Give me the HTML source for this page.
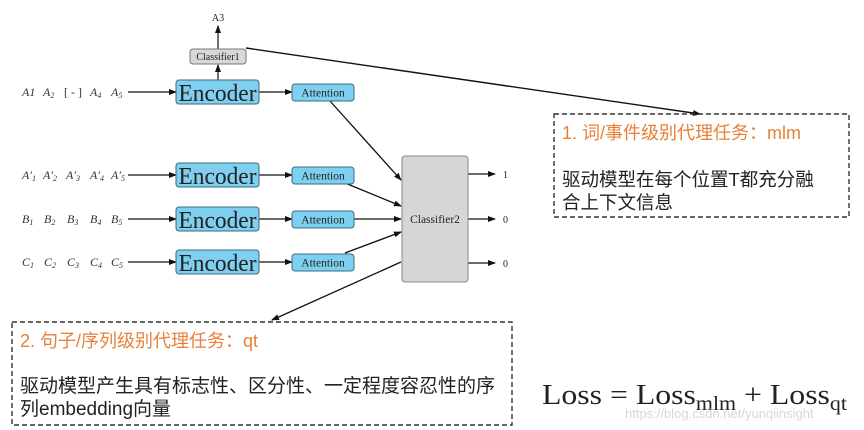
<!DOCTYPE html>
<html><head><meta charset="utf-8"><style>
html,body{margin:0;padding:0;background:#fff;}
svg{display:block;}
.m{font-family:"Liberation Serif",serif;fill:#222;}
.i{font-family:"Liberation Serif",serif;font-style:italic;fill:#333;font-size:12px;}
.cn{font-family:"Liberation Sans","Noto Sans CJK SC",sans-serif;}
</style></head><body>
<svg width="864" height="430" viewBox="0 0 864 430" xmlns="http://www.w3.org/2000/svg">
<defs><marker id="a" markerWidth="8" markerHeight="6" refX="7" refY="3" orient="auto" markerUnits="userSpaceOnUse"><path d="M0,0 L8,3 L0,6 z" fill="#111"/></marker></defs>
<rect width="864" height="430" fill="#fff"/>
<text x="218" y="21" class="m" font-size="10" text-anchor="middle">A3</text>
<line x1="218" y1="49" x2="218" y2="26" stroke="#222" stroke-width="1.3" marker-end="url(#a)"/>
<rect x="190" y="49" width="56" height="15" rx="3" fill="#d8d8d8" stroke="#777"/>
<text x="218" y="60" class="m" font-size="10" text-anchor="middle" fill="#444">Classifier1</text>
<line x1="218" y1="80" x2="218" y2="65" stroke="#222" stroke-width="1.3" marker-end="url(#a)"/>
<line x1="246" y1="48" x2="700" y2="114" stroke="#111" stroke-width="1.4" marker-end="url(#a)"/>
<!-- inputs -->
<g class="i">
<text x="22" y="96">A1</text>
<text x="43" y="96">A<tspan font-size="8" dy="2">2</tspan></text>
<text x="64" y="96" font-style="normal">[ - ]</text>
<text x="90" y="96">A<tspan font-size="8" dy="2">4</tspan></text>
<text x="111" y="96">A<tspan font-size="8" dy="2">5</tspan></text>

<text x="22" y="179">A′<tspan font-size="8" dy="2">1</tspan></text>
<text x="43" y="179">A′<tspan font-size="8" dy="2">2</tspan></text>
<text x="66" y="179">A′<tspan font-size="8" dy="2">3</tspan></text>
<text x="90" y="179">A′<tspan font-size="8" dy="2">4</tspan></text>
<text x="111" y="179">A′<tspan font-size="8" dy="2">5</tspan></text>

<text x="22" y="223">B<tspan font-size="8" dy="2">1</tspan></text>
<text x="44" y="223">B<tspan font-size="8" dy="2">2</tspan></text>
<text x="67" y="223">B<tspan font-size="8" dy="2">3</tspan></text>
<text x="90" y="223">B<tspan font-size="8" dy="2">4</tspan></text>
<text x="111" y="223">B<tspan font-size="8" dy="2">5</tspan></text>

<text x="22" y="266">C<tspan font-size="8" dy="2">1</tspan></text>
<text x="44" y="266">C<tspan font-size="8" dy="2">2</tspan></text>
<text x="67" y="266">C<tspan font-size="8" dy="2">3</tspan></text>
<text x="90" y="266">C<tspan font-size="8" dy="2">4</tspan></text>
<text x="111" y="266">C<tspan font-size="8" dy="2">5</tspan></text>
</g>
<g stroke="#111" stroke-width="1.3" marker-end="url(#a)">
<line x1="128" y1="92" x2="176" y2="92"/>
<line x1="128" y1="175" x2="176" y2="175"/>
<line x1="128" y1="219" x2="176" y2="219"/>
<line x1="128" y1="262" x2="176" y2="262"/>
<line x1="259" y1="92" x2="292" y2="92"/>
<line x1="259" y1="175" x2="292" y2="175"/>
<line x1="259" y1="219" x2="292" y2="219"/>
<line x1="259" y1="262" x2="292" y2="262"/>
<line x1="330" y1="101" x2="401" y2="180"/>
<line x1="345" y1="183" x2="401" y2="206"/>
<line x1="354" y1="219" x2="401" y2="219"/>
<line x1="345" y1="253" x2="401" y2="232"/>
<line x1="468" y1="174" x2="495" y2="174"/>
<line x1="468" y1="219" x2="495" y2="219"/>
<line x1="468" y1="263" x2="495" y2="263"/>
<line x1="401" y1="262" x2="272" y2="320"/>
</g>
<g fill="#7fd0f0" stroke="#3a6a80" stroke-width="1">
<rect x="176" y="80" width="83" height="24" rx="3"/>
<rect x="176" y="163" width="83" height="24" rx="3"/>
<rect x="176" y="207" width="83" height="24" rx="3"/>
<rect x="176" y="250" width="83" height="24" rx="3"/>
<rect x="292" y="84" width="62" height="17" rx="3"/>
<rect x="292" y="167" width="62" height="17" rx="3"/>
<rect x="292" y="211" width="62" height="17" rx="3"/>
<rect x="292" y="254" width="62" height="17" rx="3"/>
</g>
<g class="m" text-anchor="middle">
<text x="217.5" y="101" font-size="24" textLength="78" lengthAdjust="spacingAndGlyphs">Encoder</text>
<text x="217.5" y="184" font-size="24" textLength="78" lengthAdjust="spacingAndGlyphs">Encoder</text>
<text x="217.5" y="228" font-size="24" textLength="78" lengthAdjust="spacingAndGlyphs">Encoder</text>
<text x="217.5" y="271" font-size="24" textLength="78" lengthAdjust="spacingAndGlyphs">Encoder</text>
<text x="323" y="96.5" font-size="11.5">Attention</text>
<text x="323" y="179.5" font-size="11.5">Attention</text>
<text x="323" y="223.5" font-size="11.5">Attention</text>
<text x="323" y="266.5" font-size="11.5">Attention</text>
</g>
<rect x="402" y="156" width="66" height="126" rx="3" fill="#d6d6d6" stroke="#888"/>
<text x="435" y="223" class="m" font-size="11.5" text-anchor="middle" fill="#444">Classifier2</text>
<text x="503" y="178" class="m" font-size="10">1</text>
<text x="503" y="223" class="m" font-size="10">0</text>
<text x="503" y="267" class="m" font-size="10">0</text>
<rect x="554" y="114" width="295" height="103" fill="none" stroke="#333" stroke-width="1.4" stroke-dasharray="5,3"/>
<text x="562" y="139" class="cn" font-size="18" fill="#e8803a">1. 词/事件级别代理任务：mlm</text>
<text x="562" y="186" class="cn" font-size="18.5" fill="#222">驱动模型在每个位置T都充分融</text>
<text x="562" y="209" class="cn" font-size="18.5" fill="#222">合上下文信息</text>
<rect x="12" y="322" width="500" height="103" fill="none" stroke="#333" stroke-width="1.4" stroke-dasharray="5,3"/>
<text x="20" y="347" class="cn" font-size="18" fill="#e8803a">2. 句子/序列级别代理任务：qt</text>
<text x="20" y="392" class="cn" font-size="19" fill="#222">驱动模型产生具有标志性、区分性、一定程度容忍性的序</text>
<text x="20" y="415" class="cn" font-size="19" fill="#222">列embedding向量</text>
<text x="542" y="404" class="m" font-size="29" textLength="305" lengthAdjust="spacingAndGlyphs">Loss = Loss<tspan font-size="20" dy="6">mlm</tspan><tspan dy="-6"> + Loss</tspan><tspan font-size="20" dy="6">qt</tspan></text>
<text x="625" y="418" font-family="Liberation Sans,sans-serif" font-size="13" fill="#ccc" opacity="0.8">https://blog.csdn.net/yunqiinsight</text>
</svg>
</body></html>
